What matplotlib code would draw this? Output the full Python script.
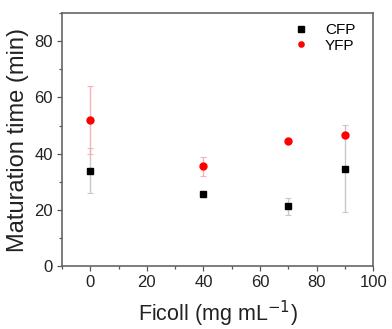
import matplotlib
matplotlib.use('Agg')
import matplotlib.pyplot as plt
from matplotlib.ticker import MultipleLocator

plt.rcParams['font.family'] = ['Liberation Sans', 'DejaVu Sans']

# maturation time vs Ficoll concentration
ficoll = [0, 40, 70, 90]
cfp_time = [34.0, 25.5, 21.3, 34.7]
cfp_err = [8.0, 0.0, 3.0, 15.6]
yfp_time = [52.0, 35.5, 44.6, 46.8]
yfp_err = [12.2, 3.5, 0.0, 0.0]

fig = plt.figure(figsize=(3.92, 3.29), dpi=100)
ax = fig.add_axes([0.158, 0.191, 0.794, 0.769])

ax.errorbar(ficoll, cfp_time, yerr=cfp_err, fmt='none', ecolor='#c8c8c8',
            elinewidth=1.0, capsize=2.5, capthick=0.8, zorder=1)
ax.errorbar(ficoll, yfp_time, yerr=yfp_err, fmt='none', ecolor='#f7b3b3',
            elinewidth=1.0, capsize=2.5, capthick=0.8, zorder=1)
ax.plot(ficoll, cfp_time, 's', color='black', ms=5, label='CFP', zorder=3)
ax.plot(ficoll, yfp_time, 'o', color='#ff0000', ms=5, label='YFP', zorder=3)

ax.set_xlim(-10, 100)
ax.set_ylim(0, 90)
ax.xaxis.set_major_locator(MultipleLocator(20))
ax.xaxis.set_minor_locator(MultipleLocator(10))
ax.yaxis.set_major_locator(MultipleLocator(20))
ax.yaxis.set_minor_locator(MultipleLocator(10))
ax.tick_params(which='both', direction='out', colors='#555555',
               labelcolor='#222222', labelsize=12, width=0.9)
ax.tick_params(which='major', length=3.5, pad=3)
ax.tick_params(which='minor', length=2)
for sp in ax.spines.values():
    sp.set_color('#666666')
    sp.set_linewidth(1.2)

ax.set_xlabel('Ficoll (mg mL$^{-1}$)', fontsize=15.5, color='#222222', labelpad=6.5)
ax.set_ylabel('Maturation time (min)', fontsize=17, color='#222222', labelpad=4)

ax.legend(loc='upper right', bbox_to_anchor=(0.962, 0.985), frameon=False,
          fontsize=11, handletextpad=0.8, markerscale=0.75,
          borderaxespad=0.0, labelspacing=0.1, handlelength=1.5)

fig.savefig('out.png', dpi=100)
